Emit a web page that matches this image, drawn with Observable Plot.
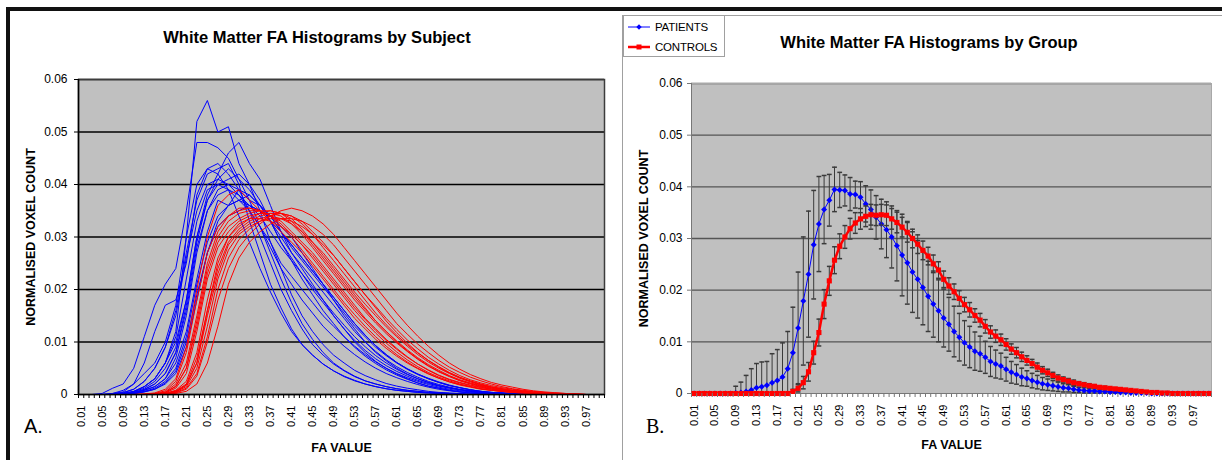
<!DOCTYPE html>
<html><head><meta charset="utf-8">
<script src="https://cdn.jsdelivr.net/npm/d3@7"></script>
<script src="https://cdn.jsdelivr.net/npm/@observablehq/plot@0.6"></script>
<style>
html,body{margin:0;padding:0;background:#fff;}
#root{position:relative;width:1222px;height:460px;overflow:hidden;font-family:"Liberation Sans",Arial,sans-serif;color:#000;}
.abs{position:absolute;}
.title{font-weight:bold;font-size:16.5px;line-height:18px;white-space:nowrap;transform:translateX(-50%);}
.lgrow{position:absolute;left:3px;height:14px;display:flex;align-items:center;font-size:11.5px;letter-spacing:-0.2px;}
.lgrow span{margin-left:4px;}
</style></head><body>
<div id="root">
  <div class="abs" style="left:6px;top:7px;width:1216px;height:4px;background:#111;"></div>
  <div class="abs" style="left:6px;top:7px;width:4px;height:453px;background:#111;"></div>
  <div class="abs" style="left:622px;top:15px;width:620px;height:460px;border-left:1px solid #a0a0a0;border-top:1px solid #a0a0a0;"></div>
  <div class="abs title" style="left:317px;top:28px;">White Matter FA Histograms by Subject</div>
  <div class="abs title" style="left:929px;top:33px;">White Matter FA Histograms by Group</div>
  <div id="panelA" class="abs" style="left:0px;top:60px;"></div>
  <div id="panelB" class="abs" style="left:622px;top:60px;"></div>
  <div class="abs" style="left:24px;top:415px;font-size:20px;line-height:22px;">A.</div>
  <div class="abs" style="left:646px;top:415px;font-size:20px;line-height:22px;font-family:'Liberation Serif','Times New Roman',serif;">B.</div>
  <div id="legend" class="abs" style="left:623px;top:15px;width:100px;height:40px;border:1px solid #a0a0a0;background:#fff;">
    <div class="lgrow" style="top:4px;"><svg width="24" height="10"><line x1="1" y1="5" x2="23" y2="5" stroke="#0000FF" stroke-width="1"/><path d="M12,2.3L14.7,5L12,7.7L9.3,5Z" fill="#0000FF"/></svg><span>PATIENTS</span></div>
    <div class="lgrow" style="top:24px;"><svg width="24" height="10"><line x1="1" y1="5" x2="23" y2="5" stroke="#FF0000" stroke-width="2.5"/><rect x="9.5" y="2.5" width="5" height="5" fill="#FF0000"/></svg><span>CONTROLS</span></div>
  </div>
</div>
<script>
// ---------- categories / ticks ----------
const faBins = d3.range(1, 101).map(i => i / 100);            // FA bins 0.01 .. 1.00
const subjectBins = d3.range(0, 50).map(k => (1 + 2 * k) / 100); // subject curves read at 0.01, 0.03, ... 0.99
const faTickLabels = ["0.01","0.05","0.09","0.13","0.17","0.21","0.25","0.29","0.33","0.37","0.41","0.45","0.49","0.53","0.57","0.61","0.65","0.69","0.73","0.77","0.81","0.85","0.89","0.93","0.97"];
const yTickValues = [0, 0.01, 0.02, 0.03, 0.04, 0.05, 0.06];
const gridValues = [0.01, 0.02, 0.03, 0.04, 0.05, 0.06];

// ---------- Panel A: individual subjects (normalised voxel count x 1000) ----------
const pat01 = [0,0,0,0,0.1,0.5,1.5,3,6,12,30,52,56,50,51,44,40,35,29,24,19,15,12,9.5,7.5,6,4.6,3.6,2.8,2.1,1.6,1.2,0.9,0.6,0.4,0.3,0.2,0.1,0,0,0,0,0,0,0,0,0,0,0,0];
const pat02 = [0,0,0.2,1.2,2,5,11,17,21,24,35,48,48,47,45,41,37,32,27,22,17.5,13.5,10.5,8,6,4.6,3.5,2.6,2,1.5,1.1,0.8,0.6,0.4,0.3,0.2,0.1,0,0,0,0,0,0,0,0,0,0,0,0,0];
const pat03 = [0,0,0,0.2,0.5,2,6,12,17,18,25,38,43,44,42,39,35,30,25,20,16,12.5,9.5,7.5,5.8,4.5,3.4,2.6,2,1.5,1.1,0.8,0.6,0.4,0.3,0.2,0.1,0,0,0,0,0,0,0,0,0,0,0,0,0];
const pat04 = [0,0,0,0,0.2,0.6,1.5,3,6,10,18,30,38,42,46,48,44,41,36,31,27,24,21,18,15,12.5,10,8,6.3,5,3.9,3,2.2,1.6,1.2,0.8,0.5,0.3,0.2,0.1,0,0,0,0,0,0,0,0,0,0];
const pat05 = [0,0,0,0,0.1,0.4,1,2,4,8,17,29,37,41,43,41,39,36,33,29,26,23,20,17.5,15,12.5,10.3,8.4,6.8,5.5,4.4,3.5,2.7,2.1,1.6,1.2,0.9,0.6,0.4,0.3,0.2,0.1,0,0,0,0,0,0,0,0];
const pat06 = [0,0,0,0.1,0.4,1,2.5,5,9,15,26,35,40,41,40,38,35,32,29,25,22.5,20,17.5,15,13,11,9.2,7.6,6.2,5,4,3.2,2.5,1.9,1.4,1,0.7,0.5,0.3,0.2,0.1,0,0,0,0,0,0,0,0,0];
const pat07 = [0,0,0,0,0,0.3,0.8,1.5,3,6,12,22,31,37,36,39,37,36,34,31,28,25.5,23,20.5,18,15.5,13,11,9,7.4,6,4.8,3.8,3,2.3,1.7,1.3,0.9,0.6,0.4,0.3,0.2,0.1,0,0,0,0,0,0,0];
const pat08 = [0,0,0,0,0.1,0.3,0.8,1.5,3,7,15,27,35,39,40,39,38,36,33,30,27,24.5,22,19.5,17,14.5,12,10,8.2,6.6,5.3,4.2,3.3,2.5,1.9,1.4,1,0.7,0.5,0.3,0.2,0.1,0,0,0,0,0,0,0,0];
const pat09 = [0,0,0,0,0,0.1,0.5,1,2,4,9,18,27,33,36,37,36,35,33,31,28.5,26,23.5,21,18.5,16,13.5,11.3,9.3,7.6,6.1,4.9,3.9,3,2.3,1.7,1.3,0.9,0.6,0.4,0.3,0.2,0.1,0,0,0,0,0,0,0];
const pat10 = [0,0,0,0,0.2,0.5,1.2,2.5,5,9,18,30,37,40,41,42,40,37,33,29,25.5,22,19,16,13.5,11,9,7.3,5.9,4.7,3.7,2.9,2.2,1.6,1.2,0.8,0.5,0.3,0.2,0.1,0,0,0,0,0,0,0,0,0,0];
const pat11 = [0,0,0,0,0,0.2,0.6,1.2,2.5,5,11,21,29,34,36,37,38,36,34,31,28.5,26,23.5,21,18.5,16,13.5,11.3,9.3,7.6,6.1,4.9,3.9,3.1,2.4,1.8,1.3,0.9,0.6,0.4,0.3,0.2,0.1,0,0,0,0,0,0,0];
const pat12 = [0,0,0,0.2,0.8,2,4,6,10,17,30,40,43,42,39,34,29,24,19.5,15.5,12,9.5,7.5,5.8,4.5,3.4,2.6,2,1.5,1.1,0.8,0.6,0.4,0.3,0.2,0.1,0,0,0,0,0,0,0,0,0,0,0,0,0,0];
const pat13 = [0,0,0,0,0.2,0.6,1.5,3,6,11,22,33,39,40,39,37,35,32,28,24,21,18,15.5,13,11,9.2,7.6,6.2,5,4,3.2,2.5,1.9,1.4,1,0.7,0.5,0.3,0.2,0.1,0,0,0,0,0,0,0,0,0,0];
const pat14 = [0,0,0,0,0,0.2,0.5,1,2.2,4.5,10,19,27,32,34,35,36,35,34,32,30,27,24,21,18,15,12.5,10,8,6.4,5,3.9,3,2.3,1.7,1.3,0.9,0.7,0.5,0.3,0.2,0.1,0,0,0,0,0,0,0,0];
const pat15 = [0,0,0,0,0.1,0.3,0.9,2,4,8,16,28,35,38,39,38,36,34,31,28,25.5,23,20.5,18,15.5,13.2,11,9.1,7.4,6,4.8,3.8,3,2.3,1.7,1.3,0.9,0.6,0.4,0.3,0.2,0.1,0,0,0,0,0,0,0,0];
const pat16 = [0,0,0,0,0.3,1,2.5,5,9,16,27,37,42,43,44,40,33,27,21,16.5,12.5,9.5,7.5,5.8,4.5,3.5,2.7,2,1.5,1.1,0.8,0.6,0.4,0.3,0.2,0.1,0,0,0,0,0,0,0,0,0,0,0,0,0,0];

const con01 = [0,0,0,0,0,0,0.1,0.3,1,3,9,20,30,36,38,39,37,35,33,31,29,27,24.5,22,19.5,17,14.5,12.5,10.5,8.8,7.3,6,4.9,3.9,3.1,2.4,1.9,1.5,1.1,0.8,0.6,0.4,0.3,0.2,0.1,0.1,0,0,0,0];
const con02 = [0,0,0,0,0,0,0,0.1,0.4,1.5,5,14,24,30,33,34.5,35,35,34,33,31,29,27,24.5,22,19.5,17,14.5,12.5,10.5,8.8,7.2,5.8,4.6,3.6,2.8,2.2,1.7,1.3,1,0.7,0.5,0.4,0.3,0.2,0.1,0.1,0,0,0];
const con03 = [0,0,0,0,0,0,0,0,0.2,0.8,2.5,8,18,26,30,32,33.5,34.5,35,34.5,33.5,31.5,29,26.5,24,21.5,19,16.5,14,12,10,8.3,6.8,5.5,4.4,3.5,2.7,2.1,1.6,1.2,0.9,0.7,0.5,0.35,0.25,0.15,0.1,0,0,0];
const con04 = [0,0,0,0,0,0,0,0,0.1,0.4,1.2,4,11,20,26,29.5,31.5,33,34,34.5,34,33,31,29,26.5,24,21.5,19,16.5,14,11.8,9.8,8,6.5,5.2,4.1,3.2,2.5,1.9,1.4,1.1,0.8,0.6,0.4,0.3,0.2,0.1,0.05,0,0];
const con05 = [0,0,0,0,0,0,0,0.1,0.5,2,6,15,25,31,34,35.5,35.5,35,34,32.5,30.5,28.5,26,23.5,21,18.5,16,13.8,11.7,9.8,8.1,6.6,5.3,4.2,3.3,2.6,2,1.5,1.1,0.8,0.6,0.4,0.3,0.2,0.1,0.1,0,0,0,0];
const con06 = [0,0,0,0,0,0,0,0,0.2,0.7,2,7,16,24,29,31.5,33,34,34.5,34.5,34,32.5,30.5,28,25.5,23,20.5,18,15.5,13.3,11.3,9.5,7.9,6.5,5.3,4.2,3.3,2.6,2,1.5,1.1,0.8,0.6,0.4,0.3,0.2,0.1,0.05,0,0];
const con07 = [0,0,0,0,0,0,0,0,0,0.2,0.6,2,6,13,21,26,29,31,32.5,33.5,33.5,33,32,30.5,28.5,26,23.5,21,18.5,16,13.5,11.5,9.6,8,6.5,5.2,4.2,3.3,2.6,2,1.5,1.1,0.8,0.6,0.4,0.3,0.2,0.1,0,0];
const con08 = [0,0,0,0,0,0,0,0.1,0.3,1.2,4,12,22,28,31,33,34,34.5,34.5,34,32.5,30.5,28,25.5,23,20.5,18,15.8,13.6,11.6,9.8,8.2,6.7,5.4,4.3,3.4,2.6,2,1.5,1.1,0.8,0.6,0.4,0.3,0.2,0.1,0.1,0,0,0];
const con09 = [0,0,0,0,0,0,0,0,0.2,0.6,1.8,6,15,23,28.5,31,32.5,33.5,34,33.5,32.5,31,29,27,24.5,22,19.5,17.2,15,12.9,11,9.2,7.6,6.2,5,4,3.1,2.4,1.8,1.4,1,0.7,0.5,0.4,0.3,0.2,0.1,0.05,0,0];
const con10 = [0,0,0,0,0,0,0.1,0.2,0.7,2.5,8,18,27,32,34,35,35.5,35,34,32,30,27.5,25,22.5,20,17.5,15.2,13,11,9.2,7.6,6.2,5,4,3.1,2.4,1.8,1.4,1,0.8,0.6,0.4,0.3,0.2,0.1,0.05,0,0,0,0];
const con11 = [0,0,0,0,0,0,0,0,0.1,0.5,1.5,5,13,22,27.5,30.5,32,33,33.5,33.5,33,32,30.5,28.5,26.5,24,21.5,19,16.8,14.5,12.4,10.4,8.7,7.1,5.8,4.6,3.6,2.8,2.2,1.7,1.3,1,0.7,0.5,0.35,0.25,0.15,0.1,0,0];
const con12 = [0,0,0,0,0,0,0,0.1,0.4,1.6,5,13,23,29,32,33.5,34.5,35,35,34.5,33,31,28.5,26,23.5,21,18.5,16.2,14,12,10.2,8.5,7,5.7,4.6,3.6,2.8,2.2,1.7,1.3,1,0.7,0.5,0.35,0.25,0.15,0.1,0,0,0];
const con13 = [0,0,0,0,0,0,0,0,0.1,0.3,1,3.5,10,18,24,28,30.5,32.5,34,35,35.5,35,34,32.5,30.5,28,25.5,23,20.5,18,15.5,13.2,11.1,9.2,7.5,6,4.8,3.8,3,2.3,1.8,1.4,1,0.7,0.5,0.35,0.2,0.1,0,0];
const con14 = [0,0,0,0,0,0,0,0,0.1,0.5,1.8,6,16,25,30,32.5,33.5,33.5,33,32,30.5,28.5,26.5,24,21.5,19,16.5,14.3,12.2,10.3,8.6,7.1,5.8,4.7,3.7,2.9,2.3,1.8,1.4,1,0.8,0.6,0.4,0.3,0.2,0.1,0.05,0,0,0];

const patientCurves = [pat01,pat02,pat03,pat04,pat05,pat06,pat07,pat08,pat09,pat10,pat11,pat12,pat13,pat14,pat15,pat16];
const controlCurves = [con01,con02,con03,con04,con05,con06,con07,con08,con09,con10,con11,con12,con13,con14];

// ---------- Panel B: group mean and SD per FA bin 0.01..1.00 (x 1000) ----------
const patientMean = [0,0,0,0,0,0,0,0,
  0.1,0.2,0.4,0.7,1.1,1.3,1.6,2.1,2.5,3.2,4.8,7.9,
  12.7,17.9,23.1,28.8,32.8,35.6,37.4,39.5,39.4,39.3,
  38.6,38.5,38.0,36.7,35.6,34.1,32.8,31.7,30.3,28.6,
  26.8,25.3,23.5,22.1,20.5,18.8,17.3,16.0,14.6,13.4,
  12.0,10.9,9.8,9.0,8.2,7.7,7.0,6.2,5.7,5.3,
  4.7,4.1,3.7,3.2,2.9,2.5,2.2,1.9,1.7,1.5,
  1.3,1.1,1.0,0.8,0.7,0.6,0.5,0.5,0.4,0.4,
  0.3,0.3,0.2,0.2,0.1,0.1,0.1,0.1,0,0,
  0,0,0,0,0,0,0,0,0,0];
const patientSD = [0,0,0,0,0,0,0,0,
  1.3,2.0,3.1,4.1,4.7,4.8,4.6,5.6,6.0,6.6,7.2,8.8,
  10.8,12.4,12.2,10.5,9.2,6.6,5.0,4.3,3.4,3.0,
  3.2,2.6,3.0,3.5,3.8,4.2,4.8,5.4,6.0,6.8,
  7.9,8.0,7.8,7.5,7.2,6.8,6.4,6.0,5.6,5.2,
  4.9,4.6,4.3,4.0,3.7,3.4,3.1,2.9,2.7,2.5,
  2.3,2.1,1.9,1.7,1.5,1.4,1.3,1.2,1.1,1.0,
  0.9,0.8,0.7,0.6,0.5,0.5,0.4,0.4,0.3,0.3,
  0.2,0.2,0.2,0.1,0.1,0.1,0.1,0.1,0,0,
  0,0,0,0,0,0,0,0,0,0];
const controlMean = [0,0,0,0,0,0,0,0,0,0,0,0,0,0,0,0,0,0,0,
  0.4,
  1.0,2.1,4.2,7.9,11.8,17.3,21.8,25.8,28.5,30.3,
  31.9,33.0,33.8,34.3,34.6,34.5,34.6,34.5,33.8,33.1,
  32.2,31.2,30.0,28.9,27.7,26.6,25.1,23.9,22.1,20.8,
  19.7,18.4,17.2,16.2,15.1,14.2,13.0,11.9,11.1,10.4,
  9.5,8.6,7.9,7.1,6.4,5.8,5.1,4.5,4.0,3.5,
  3.0,2.7,2.4,2.1,1.9,1.7,1.5,1.4,1.2,1.1,
  1.0,0.9,0.8,0.7,0.6,0.5,0.4,0.3,0.2,0.2,
  0.1,0.1,0,0,0,0,0,0,0,0];
const controlSD = [0,0,0,0,0,0,0,0,0,0,0,0,0,0,0,0,0,0,0,
  0.4,
  0.7,1.2,1.8,2.2,2.6,2.8,2.8,2.6,2.4,2.2,
  2.0,2.0,2.0,2.0,2.0,2.0,2.0,2.0,2.0,2.0,
  1.9,1.9,1.8,1.8,1.8,1.7,1.7,1.6,1.6,1.6,
  1.5,1.5,1.4,1.4,1.3,1.3,1.3,1.2,1.2,1.1,
  1.1,1.0,1.0,0.9,0.9,0.8,0.8,0.7,0.7,0.6,
  0.6,0.5,0.5,0.5,0.4,0.4,0.4,0.3,0.3,0.3,
  0.2,0.2,0.2,0.2,0.2,0.1,0.1,0.1,0.1,0.1,
  0.1,0.1,0,0,0,0,0,0,0,0];

// ---------- build tables ----------
function curveRows(values, id) {
  const first = values.findIndex(v => v > 0);
  const last = values.length - 1 - [...values].reverse().findIndex(v => v > 0);
  const rows = [];
  for (let k = Math.max(0, first - 1); k <= Math.min(values.length - 1, last + 1); k++)
    rows.push({id, fa: subjectBins[k], v: values[k] / 1000});
  return rows;
}
const patientRows = patientCurves.flatMap((c, i) => curveRows(c, "P" + i));
const controlRows = controlCurves.flatMap((c, i) => curveRows(c, "C" + i));

function groupRows(mean, sd) {
  return faBins.map((fa, i) => ({fa, m: mean[i] / 1000, s: sd[i] / 1000}));
}
function barRows(rows) {
  return rows.filter(d => d.s > 0).map(d => ({fa: d.fa, hi: d.m + d.s, lo: Math.max(0, d.m - d.s), hasLo: d.m - d.s > 0}));
}
const patientGroup = groupRows(patientMean, patientSD);
const controlGroup = groupRows(controlMean, controlSD);
const patientBars = barRows(patientGroup);
const controlBars = barRows(controlGroup);

const xDomain = [0.005, 1.005];
const boundTicks = d3.range(0, 101).map(k => (0.5 + k) / 100);
const labelTicks = faTickLabels.map(Number);
const yFmt = d => d === 0 ? "0" : d3.format(".2f")(d);
const capSymbol = {draw(ctx, size) { const r = Math.sqrt(size / Math.PI); ctx.moveTo(-r, 0); ctx.lineTo(r, 0); }};
const plotStyle = {fontFamily: "'Liberation Sans', Arial, sans-serif", background: "transparent", color: "#000", overflow: "visible"};

// ---------- Panel A ----------
const plotA = Plot.plot({
  width: 620, height: 400, marginLeft: 78, marginRight: 16, marginTop: 19, marginBottom: 66,
  x: {domain: xDomain}, y: {domain: [0, 0.06]},
  style: plotStyle,
  marks: [
    Plot.frame({fill: "#C0C0C0"}),
    Plot.ruleY(gridValues, {stroke: "#000", strokeWidth: 1.6}),
    Plot.frame({stroke: "#3c3c3c", strokeWidth: 1.5}),
    Plot.line(patientRows, {x: "fa", y: "v", z: "id", stroke: "#0000FF", strokeWidth: 1}),
    Plot.line(controlRows, {x: "fa", y: "v", z: "id", stroke: "#FF0000", strokeWidth: 1}),
    Plot.ruleY([0], {stroke: "#000", strokeWidth: 1.5}),
    Plot.ruleX([xDomain[0]], {stroke: "#000", strokeWidth: 1.5}),
    Plot.axisX({ticks: boundTicks, tickSize: 4, fill: "none", stroke: "#000", label: null}),
    Plot.axisX({ticks: labelTicks, tickSize: 0, tickPadding: 11, tickRotate: -90, tickFormat: d3.format(".2f"), fontSize: 11, label: null}),
    Plot.axisY({ticks: yTickValues, tickSize: 4, tickPadding: 7, tickFormat: yFmt, fontSize: 12, label: null}),
    Plot.text(["NORMALISED VOXEL COUNT"], {text: d => d, frameAnchor: "left", textAnchor: "middle", lineAnchor: "middle", dx: -48, rotate: -90, fontSize: 12.5, fontWeight: "bold"}),
    Plot.text(["FA VALUE"], {text: d => d, frameAnchor: "bottom", textAnchor: "middle", lineAnchor: "middle", dy: 53, fontSize: 12.5, fontWeight: "bold"})
  ]
});
document.getElementById("panelA").append(plotA);

// ---------- Panel B ----------
const plotB = Plot.plot({
  width: 600, height: 400, marginLeft: 69, marginRight: 11, marginTop: 23, marginBottom: 67,
  x: {domain: xDomain}, y: {domain: [0, 0.06]},
  style: plotStyle,
  marks: [
    Plot.frame({fill: "#C0C0C0"}),
    Plot.ruleY(gridValues, {stroke: "#555", strokeWidth: 1.3}),
    Plot.frame({stroke: "#a8a8a8", strokeWidth: 1}),
    Plot.ruleX([xDomain[0]], {stroke: "#777", strokeWidth: 1}),
    Plot.ruleY([0], {stroke: "#777", strokeWidth: 1}),
    Plot.ruleX(patientBars, {x: "fa", y1: "lo", y2: "hi", stroke: "#3a3a3a", strokeWidth: 1}),
    Plot.dot(patientBars, {x: "fa", y: "hi", symbol: capSymbol, r: 2.4, stroke: "#3a3a3a", fill: "none"}),
    Plot.dot(patientBars.filter(d => d.hasLo), {x: "fa", y: "lo", symbol: capSymbol, r: 2.4, stroke: "#3a3a3a", fill: "none"}),
    Plot.line(patientGroup, {x: "fa", y: "m", stroke: "#0000FF", strokeWidth: 1}),
    Plot.dot(patientGroup, {x: "fa", y: "m", symbol: "diamond2", r: 2.7, fill: "#0000FF"}),
    Plot.ruleX(controlBars, {x: "fa", y1: "lo", y2: "hi", stroke: "#3a3a3a", strokeWidth: 1}),
    Plot.dot(controlBars, {x: "fa", y: "hi", symbol: capSymbol, r: 2.4, stroke: "#3a3a3a", fill: "none"}),
    Plot.dot(controlBars.filter(d => d.hasLo), {x: "fa", y: "lo", symbol: capSymbol, r: 2.4, stroke: "#3a3a3a", fill: "none"}),
    Plot.line(controlGroup, {x: "fa", y: "m", stroke: "#FF0000", strokeWidth: 2.5}),
    Plot.dot(controlGroup, {x: "fa", y: "m", symbol: "square", r: 2.9, fill: "#FF0000"}),
    Plot.axisX({ticks: boundTicks, tickSize: 4, fill: "none", stroke: "#777", label: null}),
    Plot.axisX({ticks: labelTicks, tickSize: 0, tickPadding: 11, tickRotate: -90, tickFormat: d3.format(".2f"), fontSize: 11, label: null}),
    Plot.axisY({ticks: yTickValues, tickSize: 4, tickPadding: 5, tickFormat: yFmt, fontSize: 12, stroke: "#777", label: null}),
    Plot.text(["NORMALISED VOXEL COUNT"], {text: d => d, frameAnchor: "left", textAnchor: "middle", lineAnchor: "middle", dx: -48, rotate: -90, fontSize: 12.5, fontWeight: "bold"}),
    Plot.text(["FA VALUE"], {text: d => d, frameAnchor: "bottom", textAnchor: "middle", lineAnchor: "middle", dy: 51, fontSize: 12.5, fontWeight: "bold"})
  ]
});
document.getElementById("panelB").append(plotB);
</script>
</body></html>
